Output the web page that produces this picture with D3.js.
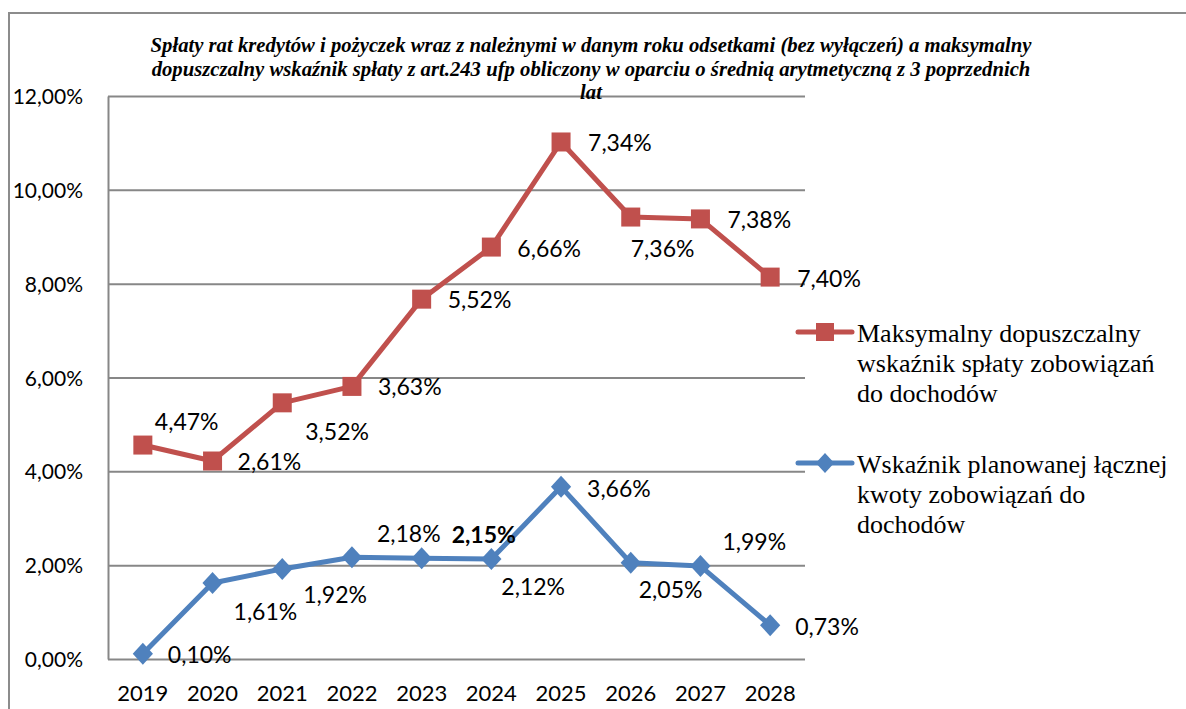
<!DOCTYPE html>
<html>
<head>
<meta charset="utf-8">
<script src="https://cdn.jsdelivr.net/npm/d3@7"></script>
<style>
  body { margin: 0; background: #fff; }
  svg { display: block; }
</style>
</head>
<body>
<div id="chart"></div>
<script>
// Data
var years = ['2019', '2020', '2021', '2022', '2023', '2024', '2025', '2026', '2027', '2028'];

// plotted values (fractions) and the labels printed next to the markers
var maxValues = [0.0456, 0.0422, 0.0546, 0.0581, 0.0767, 0.0878, 0.1102, 0.0942, 0.0938, 0.0814];
var maxLabels = ['4,47%', '2,61%', '3,52%', '3,63%', '5,52%', '6,66%', '7,34%', '7,36%', '7,38%', '7,40%'];

var planValues = [0.0011, 0.0162, 0.0192, 0.0217, 0.0215, 0.0213, 0.0367, 0.0205, 0.0198, 0.0072];
var planLabels = ['0,10%', '1,61%', '1,92%', '2,18%', '2,15%', '2,12%', '3,66%', '2,05%', '1,99%', '0,73%'];
var planBold = [false, false, false, false, true, false, false, false, false, false];

var yTicks = [0, 0.02, 0.04, 0.06, 0.08, 0.10, 0.12];

var titleLines = [
    'Spłaty rat kredytów i pożyczek wraz z należnymi w danym roku odsetkami (bez wyłączeń) a maksymalny',
    'dopuszczalny wskaźnik spłaty z art.243 ufp obliczony w oparciu o średnią arytmetyczną z 3 poprzednich',
    'lat'
];
var maxLegend = ['Maksymalny dopuszczalny', 'wskaźnik spłaty zobowiązań', 'do dochodów'];
var planLegend = ['Wskaźnik planowanej łącznej', 'kwoty zobowiązań do', 'dochodów'];

// label offsets from each marker (layout only)
var maxOffsets = [[12, -15], [25, 9], [23, 37], [26, 9], [26, 9], [26, 10], [27, 9], [0, 40], [27, 9], [27, 10]];
var planOffsets = [[25, 9], [21, 37], [21, 34], [25, -15], [30, -15], [10, 36], [26, 10], [8, 35], [22, -16], [25, 10]];

// Basic parameters
var WIDTH = 1186,
    HEIGHT = 709;
var RED = '#C0504D',
    BLUE = '#4F81BD',
    GRID = '#878787';
var LABEL_FONT = 'Lato, "Open Sans", sans-serif';
var SERIF = '"Liberation Serif", "Times New Roman", serif';

var svg = d3.select('#chart')
    .append('svg')
    .attr('width', WIDTH)
    .attr('height', HEIGHT);

// outer frame (runs off the right and bottom edges)
svg.append('path')
    .attr('d', 'M9,' + HEIGHT + 'V13H' + WIDTH)
    .attr('fill', 'none')
    .attr('stroke', '#8c8c8c')
    .attr('stroke-width', 2);

var x = d3.scaleBand()
    .domain(years)
    .range([108, 805])
    .padding(0);

var y = d3.scaleLinear()
    .domain([0, 0.12])
    .range([659, 96]);

var cx = function(i) { return x(years[i]) + x.bandwidth() / 2; };

var pl = d3.formatLocale({ decimal: ',', thousands: ' ', grouping: [3], currency: ['', ' zł'] });
var pct = pl.format('.2%');

// y axis with gridlines
var yAxis = svg.append('g')
    .attr('transform', 'translate(108,0)')
    .call(d3.axisLeft(y)
        .tickValues(yTicks)
        .tickFormat(pct)
        .tickSizeInner(-(805 - 108))
        .tickSizeOuter(0)
        .tickPadding(25));
yAxis.selectAll('.tick line').attr('stroke', GRID).attr('stroke-width', 2);
yAxis.select('.domain').attr('stroke', GRID).attr('stroke-width', 2);
yAxis.selectAll('text')
    .attr('font-family', LABEL_FONT)
    .attr('font-size', 21)
    .attr('fill', '#000')
    .attr('dy', '0.36em');

// x axis labels
var xAxis = svg.append('g')
    .attr('transform', 'translate(0,659)')
    .call(d3.axisBottom(x).tickSize(0).tickPadding(26));
xAxis.select('.domain').remove();
xAxis.selectAll('text')
    .attr('font-family', LABEL_FONT)
    .attr('font-size', 22)
    .attr('fill', '#000');

// title
svg.append('g').selectAll('text')
    .data(titleLines)
    .enter()
    .append('text')
    .attr('x', 591)
    .attr('y', function(d, i) { return 52 + i * 23.5; })
    .attr('text-anchor', 'middle')
    .attr('font-family', SERIF)
    .attr('font-style', 'italic')
    .attr('font-weight', 'bold')
    .attr('font-size', 20.7)
    .text(function(d) { return d; });

var line = d3.line()
    .x(function(d, i) { return cx(i); })
    .y(function(d) { return y(d); });

var diamond = function(s) {
    return 'M0,' + (-s) + 'L' + (s * 0.92) + ',0L0,' + s + 'L' + (-s * 0.92) + ',0Z';
};

// red series
svg.append('path')
    .datum(maxValues)
    .attr('d', line)
    .attr('fill', 'none')
    .attr('stroke', RED)
    .attr('stroke-width', 5)
    .attr('stroke-linejoin', 'round');

svg.selectAll('.sq')
    .data(maxValues)
    .enter()
    .append('rect')
    .attr('class', 'sq')
    .attr('x', function(d, i) { return cx(i) - 9.5; })
    .attr('y', function(d) { return y(d) - 9.5; })
    .attr('width', 19)
    .attr('height', 19)
    .attr('fill', RED);

// blue series
svg.append('path')
    .datum(planValues)
    .attr('d', line)
    .attr('fill', 'none')
    .attr('stroke', BLUE)
    .attr('stroke-width', 5)
    .attr('stroke-linejoin', 'round');

svg.selectAll('.dia')
    .data(planValues)
    .enter()
    .append('path')
    .attr('class', 'dia')
    .attr('transform', function(d, i) { return 'translate(' + cx(i) + ',' + y(d) + ')'; })
    .attr('d', diamond(11))
    .attr('fill', BLUE);

// data labels
svg.selectAll('.lbl-max')
    .data(maxLabels)
    .enter()
    .append('text')
    .attr('class', 'lbl-max')
    .attr('x', function(d, i) { return cx(i) + maxOffsets[i][0]; })
    .attr('y', function(d, i) { return y(maxValues[i]) + maxOffsets[i][1]; })
    .attr('font-family', LABEL_FONT)
    .attr('font-size', 23)
    .text(function(d) { return d; });

svg.selectAll('.lbl-plan')
    .data(planLabels)
    .enter()
    .append('text')
    .attr('class', 'lbl-plan')
    .attr('x', function(d, i) { return cx(i) + planOffsets[i][0]; })
    .attr('y', function(d, i) { return y(planValues[i]) + planOffsets[i][1]; })
    .attr('font-family', LABEL_FONT)
    .attr('font-size', 23)
    .attr('font-weight', function(d, i) { return planBold[i] ? 'bold' : 'normal'; })
    .text(function(d) { return d; });

// legend
var legendItem = function(ly, color, lines, marker) {
    var g = svg.append('g');
    g.append('line')
        .attr('x1', 798).attr('x2', 852)
        .attr('y1', ly).attr('y2', ly)
        .attr('stroke', color)
        .attr('stroke-width', 5)
        .attr('stroke-linecap', 'round');
    if (marker === 'square') {
        g.append('rect')
            .attr('x', 825 - 9).attr('y', ly - 9)
            .attr('width', 18).attr('height', 18)
            .attr('fill', color);
    } else {
        g.append('path')
            .attr('transform', 'translate(825,' + ly + ')')
            .attr('d', diamond(10))
            .attr('fill', color);
    }
    g.selectAll('text')
        .data(lines)
        .enter()
        .append('text')
        .attr('x', 857)
        .attr('y', function(d, i) { return ly + 10 + i * 30; })
        .attr('font-family', SERIF)
        .attr('font-size', 26)
        .text(function(d) { return d; });
};

legendItem(332, RED, maxLegend, 'square');
legendItem(463, BLUE, planLegend, 'diamond');
</script>
</body>
</html>
